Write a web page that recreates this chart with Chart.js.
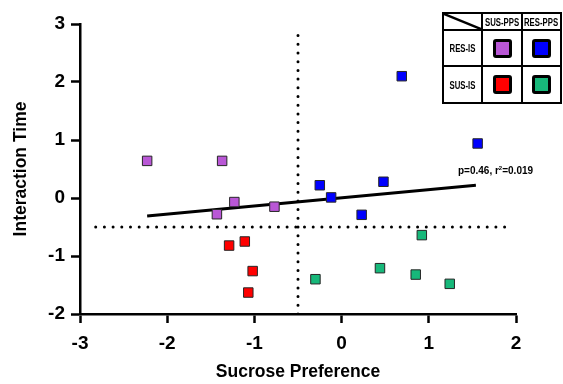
<!DOCTYPE html>
<html>
<head>
<meta charset="utf-8">
<script src="https://cdn.jsdelivr.net/npm/chart.js@4"></script>
<style>
  html, body { margin: 0; padding: 0; background: #fff; }
  #wrap { position: relative; width: 563px; height: 384px; }
  #stats {
    position: absolute; left: 458px; top: 165px;
    font: bold 10px "Liberation Sans", Arial, sans-serif; color: #000; white-space: nowrap;
  }
  #stats sup { font-size: 6px; vertical-align: 4px; line-height: 0; }
  #key {
    position: absolute; left: 442px; top: 12px;
    display: grid; grid-template-columns: 37px 38px 37px; grid-template-rows: 15px 34px 35px;
    gap: 2px; padding: 2px; background: #000;
    font: bold 10.5px "Liberation Sans", Arial, sans-serif; color: #000;
  }
  #key > div { background: #fff; display: flex; align-items: center; justify-content: center; white-space: nowrap; position: relative; }
  #key .lbl { display: inline-block; transform: scaleX(0.74); }
  #key svg { position: absolute; left: 0; top: 0; }
  .sw { width: 13px; height: 13px; border: 3px solid #000; border-radius: 3px; }
</style>
</head>
<body>
<div id="wrap">
  <canvas id="chart" width="563" height="384"></canvas>
  <div id="stats">p=0.46, r<sup>2</sup>=0.019</div>
  <div id="key">
    <div><svg width="37" height="15"><line x1="0" y1="0" x2="37" y2="15" stroke="#000" stroke-width="2.5"/></svg></div>
    <div><span class="lbl">SUS-PPS</span></div>
    <div><span class="lbl">RES-PPS</span></div>
    <div><span class="lbl">RES-IS</span></div>
    <div><div class="sw" style="background:#b957d6"></div></div>
    <div><div class="sw" style="background:#0000ff"></div></div>
    <div><span class="lbl">SUS-IS</span></div>
    <div><div class="sw" style="background:#ff0000"></div></div>
    <div><div class="sw" style="background:#17b87a"></div></div>
  </div>
</div>
<script>
// RES-IS / SUS-PPS
const purpleX = [-2.23, -1.37, -1.23, -1.43, -0.77];
const purpleY = [0.64, 0.64, -0.07, -0.28, -0.15];
// RES-IS / RES-PPS
const blueX = [0.69, 1.56, -0.25, -0.12, 0.48, 0.23];
const blueY = [2.10, 0.94, 0.22, 0.01, 0.28, -0.29];
// SUS-IS / SUS-PPS
const redX = [-1.29, -1.11, -1.02, -1.07];
const redY = [-0.82, -0.75, -1.26, -1.63];
// SUS-IS / RES-PPS
const greenX = [0.92, 0.44, 0.85, 1.24, -0.30];
const greenY = [-0.64, -1.21, -1.32, -1.48, -1.40];

// linear fit over all points
const fitX = [-2.23, 1.54];
const fitY = [-0.31, 0.22];

// cut-off lines
const cutX = -0.5;
const cutY = -0.5;
const vCutY = [-2, 2.86];
const hCutX = [-2.82, 1.9];

const xTicks = [-3, -2, -1, 0, 1, 2];
const yTicks = [-2, -1, 0, 1, 2, 3];

const toPts = (xs, ys) => xs.map((x, i) => ({ x: x, y: ys[i] }));

function group(xs, ys, color) {
    return {
        data: toPts(xs, ys),
        pointStyle: "rect",
        pointRadius: 6.7,
        pointHoverRadius: 6.7,
        backgroundColor: color,
        borderColor: "#262626",
        borderWidth: 1,
        order: 0,
    };
}

function dotted(pts) {
    return {
        data: pts,
        showLine: true,
        borderColor: "#000",
        borderWidth: 3,
        borderDash: [0, 8.7],
        borderCapStyle: "round",
        pointRadius: 0,
        order: 2,
    };
}

const axisFont = { family: "'Liberation Sans', Arial, sans-serif", size: 19, weight: "bold" };
const titleFont = { family: "'Liberation Sans', Arial, sans-serif", size: 17.5, weight: "bold" };

const ctx = document.getElementById("chart").getContext("2d");
new Chart(ctx, {
    type: "scatter",
    data: {
        datasets: [
            group(purpleX, purpleY, "#b957d6"),
            group(blueX, blueY, "#0000ff"),
            group(redX, redY, "#ff0000"),
            group(greenX, greenY, "#17b87a"),
            {
                data: toPts(fitX, fitY),
                showLine: true,
                borderColor: "#000",
                borderWidth: 3,
                pointRadius: 0,
                order: 1,
            },
            dotted(vCutY.map(y => ({ x: cutX, y: y }))),
            dotted(hCutX.map(x => ({ x: x, y: cutY }))),
        ],
    },
    options: {
        responsive: false,
        animation: false,
        layout: { padding: { top: 24, right: 47, left: 0, bottom: 0 } },
        plugins: { legend: { display: false }, tooltip: { enabled: false } },
        scales: {
            x: {
                type: "linear",
                min: -3,
                max: 2,
                afterBuildTicks: (axis) => { axis.ticks = xTicks.map(v => ({ value: v })); },
                afterFit: (axis) => { axis.height = 70; },
                border: { color: "#000", width: 2.5 },
                grid: { drawOnChartArea: false, drawTicks: true, tickLength: 9, tickColor: "#000", tickWidth: 2.5 },
                ticks: { color: "#000", font: axisFont, padding: 9, maxRotation: 0 },
                title: { display: true, text: "Sucrose Preference", color: "#000", font: titleFont, padding: { top: 0, bottom: 1 } },
            },
            y: {
                type: "linear",
                min: -2,
                max: 3,
                afterBuildTicks: (axis) => { axis.ticks = yTicks.map(v => ({ value: v })); },
                afterFit: (axis) => { axis.width = 80; },
                border: { color: "#000", width: 2.5 },
                grid: { drawOnChartArea: false, drawTicks: true, tickLength: 9, tickColor: "#000", tickWidth: 2.5 },
                ticks: { color: "#000", font: axisFont, padding: 6 },
                title: { display: true, text: "Interaction Time", color: "#000", font: titleFont, padding: { top: 11, bottom: 0 } },
            },
        },
    },
});
</script>
</body>
</html>
